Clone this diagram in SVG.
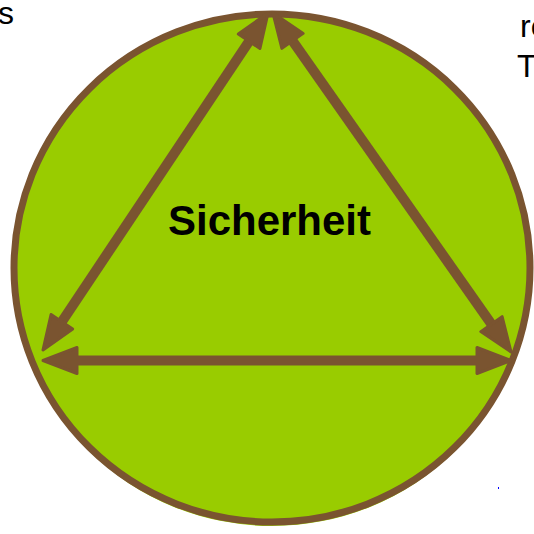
<svg xmlns="http://www.w3.org/2000/svg" width="534" height="534" viewBox="0 0 534 534">
<style>
.txt{font-family:"Liberation Sans",Arial,sans-serif;fill:#000}
.conn{stroke:#7A5430;stroke-width:10;fill:none}
</style>
<defs>
<marker id="head" markerUnits="userSpaceOnUse" markerWidth="40" markerHeight="34" viewBox="0 0 40 34" refX="4.5" refY="17" orient="auto-start-reverse" overflow="visible">
<path d="M1.5,4 L35.5,17 L1.5,30 Z" fill="#7A5430" stroke="#7A5430" stroke-width="3" stroke-linejoin="round"/>
</marker>
</defs>
<rect width="534" height="534" fill="#fff"/>
<g id="circle">
<ellipse cx="272" cy="272" rx="258" ry="254" fill="#99CC00"/>
<ellipse cx="272" cy="268" rx="258" ry="254" fill="#99CC00" stroke="#7A5430" stroke-width="7"/>
</g>
<g id="connectors">
<line class="conn" x1="250.8" y1="38.8" x2="60.2" y2="324.2" marker-start="url(#head)" marker-end="url(#head)"/>
<line class="conn" x1="290.8" y1="38.4" x2="493.2" y2="326.6" marker-start="url(#head)" marker-end="url(#head)"/>
<line class="conn" x1="74" y1="360.5" x2="480" y2="360.5" marker-start="url(#head)" marker-end="url(#head)"/>
</g>
<g id="label">
<text class="txt" x="269.5" y="235" font-size="42" font-weight="bold" text-anchor="middle">Sicherheit</text>
</g>
<g id="side-text">
<text class="txt" x="-2" y="24" font-size="32">s</text>
<text class="txt" x="520" y="37" font-size="32">re</text>
<text class="txt" x="517" y="77" font-size="32">T</text>
</g>
<rect x="498" y="487" width="1" height="2" fill="#0000FF"/>
</svg>
